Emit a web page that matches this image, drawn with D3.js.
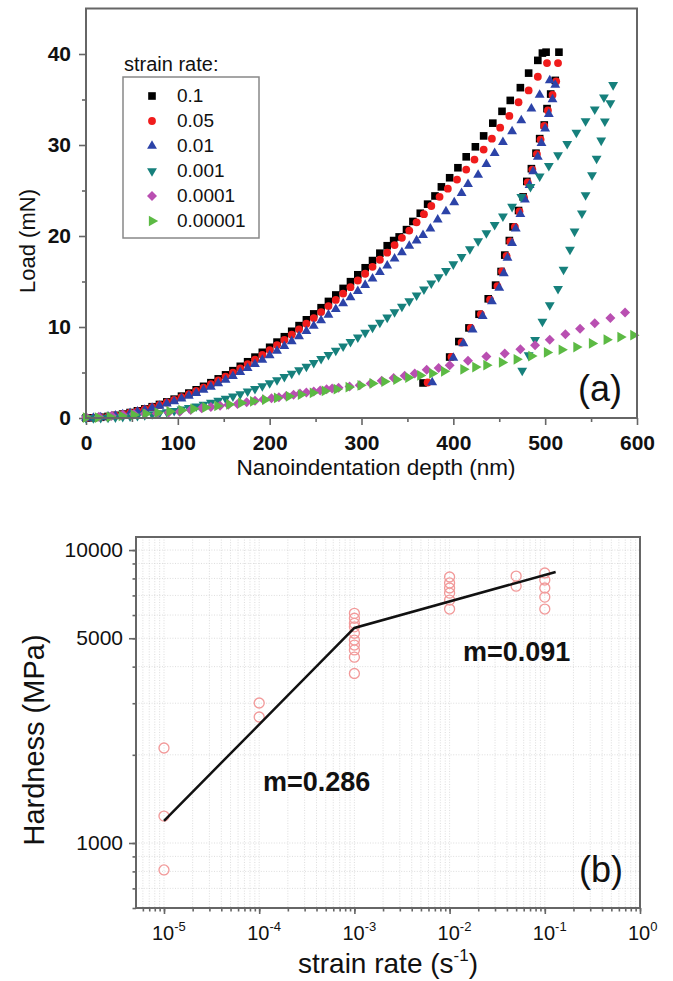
<!DOCTYPE html>
<html>
<head>
<meta charset="utf-8">
<title>Load-depth curves and hardness vs strain rate</title>
<script src="https://cdnjs.cloudflare.com/ajax/libs/d3/7.8.5/d3.min.js"></script>
<style>
  body { margin: 0; background: #fff; }
  text { font-family: "Liberation Sans", Arial, sans-serif; fill: #111; }
  .frame { fill: none; stroke: #666; stroke-width: 2; }
  .axis path { display: none; }
  .axis line { stroke: #666; stroke-width: 1.6; }
  .grid line { stroke: #d4d4d4; stroke-width: 0.8; stroke-dasharray: 1 1.6; }
</style>
</head>
<body>
<svg id="fig" width="673" height="981"></svg>
<script>
// ---------- (a) load vs depth, [depth nm, load mN] ----------
const rate01Load = [[0,0],[8,0.02],[16,0.08],[24,0.17],[32,0.29],[40,0.43],[48,0.6],[56,0.79],[64,1.0],[72,1.24],[80,1.49],[88,1.77],[96,2.07],[104,2.4],[112,2.74],[120,3.1],[128,3.48],[136,3.88],[144,4.3],[152,4.74],[160,5.2],[168,5.68],[176,6.18],[184,6.69],[192,7.22],[200,7.77],[208,8.34],[216,8.93],[224,9.53],[232,10.15],[240,10.79],[248,11.44],[256,12.12],[264,12.81],[272,13.52],[280,14.24],[288,14.98],[296,15.74],[304,16.51],[312,17.3],[320,18.11],[328,18.93],[335,19.5],[341,19.9],[349,20.7],[356,21.6],[364,22.5],[372,23.5],[380,24.4],[387,25.4],[396,26.4],[405,27.5],[414,28.7],[424,29.8],[433,31.0],[443,32.4],[453,33.7],[462,34.9],[473,36.3],[482,37.9],[492,39.3],[497,40.1],[501,40.2]];
const rate01Unload = [[515,40.2],[511,37.1],[506,35.6],[502,34.0],[499,32.2],[494,30.7],[490,29.1],[485,27.4],[480,26.0],[476,24.3],[471,22.8],[465,21.0],[461,19.5],[456,17.9],[452,16.1],[446,14.6],[438,13.1],[428,11.4],[417,9.9],[406,8.4],[396,6.7],[367,3.85]];

const rate005Load = [[0,0],[8,0.02],[16,0.08],[24,0.16],[32,0.28],[40,0.41],[48,0.58],[56,0.76],[64,0.96],[72,1.19],[80,1.43],[88,1.7],[96,1.99],[104,2.3],[112,2.63],[120,2.98],[128,3.34],[136,3.72],[144,4.13],[152,4.55],[160,4.99],[168,5.45],[176,5.93],[184,6.42],[192,6.93],[200,7.46],[208,8.01],[216,8.57],[224,9.15],[232,9.74],[240,10.36],[248,10.98],[256,11.64],[264,12.3],[272,12.98],[280,13.67],[288,14.38],[296,15.11],[304,15.85],[312,16.61],[320,17.39],[328,18.17],[336,19.0],[344,19.8],[352,20.6],[360,21.5],[368,22.4],[376,23.3],[385,24.3],[394,25.2],[404,26.2],[414,27.3],[423,28.4],[433,29.5],[442,30.7],[451,31.9],[461,33.2],[471,34.7],[482,36.0],[492,37.5],[502,39.0]];
const rate005Unload = [[514,39.0],[512,37.0],[508,35.5],[503,33.8],[499,32.1],[495,30.6],[491,29.0],[486,27.3],[481,25.9],[477,24.2],[472,22.7],[467,21.0],[462,19.4],[458,17.8],[453,16.1],[448,14.5],[440,13.0],[430,11.4],[419,9.9],[409,8.3],[398,6.7],[372,3.9]];

const rate001Load = [[0,0],[8,0.02],[16,0.07],[24,0.15],[32,0.26],[40,0.38],[48,0.53],[56,0.7],[64,0.88],[72,1.1],[80,1.32],[88,1.57],[96,1.83],[104,2.12],[112,2.42],[120,2.74],[128,3.08],[136,3.43],[144,3.81],[152,4.19],[160,4.6],[168,5.03],[176,5.47],[184,5.92],[192,6.39],[200,6.88],[208,7.38],[216,7.9],[224,8.43],[232,8.98],[240,9.55],[248,10.12],[256,10.73],[264,11.34],[272,11.97],[280,12.6],[288,13.26],[296,13.93],[304,14.61],[312,15.31],[320,16.03],[328,16.75],[336,17.5],[344,18.2],[352,18.9],[360,19.5],[367,20.1],[375,20.8],[383,21.8],[392,22.7],[401,23.7],[409,24.7],[416,25.7],[427,26.7],[436,27.9],[445,29.1],[454,30.3],[464,31.5],[474,32.7],[485,34.0],[494,35.5],[505,37.1]];
const rate001Unload = [[511,36.6],[508,35.0],[504,33.4],[500,31.8],[496,30.2],[492,28.7],[487,27.1],[483,25.6],[478,24.0],[473,22.4],[468,20.8],[464,19.2],[459,17.6],[455,15.9],[450,14.3],[442,12.8],[432,11.2],[421,9.7],[411,8.2],[400,6.6],[377,3.9]];

const rate0001Load = [[0,0],[8,0.0],[16,0.02],[24,0.04],[32,0.08],[40,0.12],[48,0.18],[56,0.25],[64,0.33],[72,0.43],[80,0.54],[88,0.66],[96,0.8],[104,0.95],[112,1.11],[120,1.29],[128,1.48],[136,1.68],[144,1.9],[152,2.13],[160,2.38],[168,2.64],[176,2.92],[184,3.21],[192,3.51],[200,3.83],[208,4.17],[216,4.52],[224,4.88],[232,5.27],[240,5.66],[248,6.07],[256,6.5],[264,6.94],[272,7.4],[280,7.88],[288,8.37],[296,8.87],[304,9.39],[312,9.93],[320,10.48],[328,11.05],[336,11.63],[344,12.24],[352,12.85],[360,13.49],[368,14.14],[376,14.8],[384,15.49],[392,16.18],[400,16.9],[409,17.72],[418,18.57],[427,19.43],[436,20.32],[445,21.23],[454,22.16],[464,23.22],[474,24.3],[484,25.41],[494,26.55],[504,27.71],[514,28.9],[524,30.12],[534,31.36],[544,32.63],[554,33.93],[564,35.25],[574,36.6]];
const rate0001Unload = [[571,34.6],[565,32.6],[561,30.5],[556,28.5],[551,26.7],[544,24.5],[540,22.5],[532,20.5],[527,18.5],[520,16.3],[514,14.2],[505,12.4],[497,10.6],[489,8.6],[482,6.9],[475,5.2]];

const rate00001Load = [[0,0.1],[14,0.15],[28,0.25],[40,0.35],[52,0.44],[64,0.47],[77,0.5],[90,0.6],[102,0.7],[114,0.88],[126,1.07],[136,1.2],[146,1.35],[155,1.45],[165,1.54],[175,1.72],[184,1.9],[193,2.03],[202,2.16],[210,2.29],[218,2.42],[226,2.56],[233,2.7],[240,2.8],[248,2.9],[255,3.03],[262,3.15],[268,3.24],[275,3.33],[287,3.47],[298,3.6],[310,3.8],[322,4.1],[335,4.4],[347,4.65],[358,4.9],[371,5.3],[384,5.5],[396,5.8],[416,6.3],[436,6.75],[456,7.1],[473,7.55],[489,8.0],[505,8.6],[522,9.2],[538,9.8],[554,10.4],[571,11.0],[587,11.6]];

const rate000001Load = [[0,0.05],[13,0.05],[26,0.13],[39,0.23],[52,0.34],[65,0.46],[78,0.58],[91,0.72],[104,0.86],[117,1.01],[130,1.16],[143,1.32],[156,1.49],[169,1.66],[182,1.83],[195,2.01],[208,2.2],[221,2.38],[234,2.58],[247,2.77],[260,2.97],[273,3.17],[286,3.38],[299,3.59],[312,3.8],[325,4.01],[338,4.23],[351,4.45],[364,4.68],[377,4.9],[390,5.13],[411,5.35],[424,5.6],[436,5.8],[453,6.1],[469,6.45],[485,6.8],[502,7.2],[518,7.5],[534,7.8],[551,8.2],[567,8.6],[582,8.9],[596,9.1]];

const rateLabels = ["0.1", "0.05", "0.01", "0.001", "0.0001", "0.00001"];
const rateColors = ["#000000", "#f01c1c", "#2c43a8", "#16807c", "#b94fb1", "#5cba44"];
const depthTicks = [0, 100, 200, 300, 400, 500, 600];
const loadTicks = [0, 10, 20, 30, 40];

// ---------- (b) hardness vs strain rate ----------
const hardnessRates = [1e-5, 1e-4, 1e-3, 1e-2, 0.05, 0.1];
const hardnessValues = [
  [2110, 1236, 809],
  [3005, 2692],
  [6080, 5850, 5620, 5470, 5200, 4930, 4740, 4560, 4310, 3790],
  [8090, 7720, 7420, 7130, 6750, 6290],
  [8150, 7530],
  [8350, 7900, 7420, 6910, 6290]
];
const fitLine = [[1e-5, 1190], [1e-3, 5420], [0.13, 8420]];
const rateTicks = [1e-5, 1e-4, 1e-3, 1e-2, 1e-1, 1];
const hardnessTicks = [1000, 5000, 10000];

const svg = d3.select("#fig");

// ================= panel (a) =================
const x1 = d3.scaleLinear().domain([0, 600]).range([86, 637]);
const y1 = d3.scaleLinear().domain([0, 45]).range([418, 8.5]);

const gA = svg.append("g");

gA.append("g").attr("class", "axis")
  .attr("transform", "translate(0,418)")
  .call(d3.axisBottom(x1).tickValues(d3.range(50, 600, 100)).tickSize(4).tickFormat(""));
const xa = gA.append("g").attr("class", "axis")
  .attr("transform", "translate(0,418)")
  .call(d3.axisBottom(x1).tickValues(depthTicks).tickSize(7).tickPadding(10));
xa.selectAll("text").attr("font-size", 21).attr("font-weight", "bold").attr("fill", "#111");

gA.append("g").attr("class", "axis")
  .attr("transform", "translate(86,0)")
  .call(d3.axisLeft(y1).tickValues([5, 15, 25, 35]).tickSize(4).tickFormat(""));
const ya = gA.append("g").attr("class", "axis")
  .attr("transform", "translate(86,0)")
  .call(d3.axisLeft(y1).tickValues(loadTicks).tickSize(7).tickPadding(8));
ya.selectAll("text").attr("font-size", 21).attr("font-weight", "bold").attr("fill", "#111");

const series = [
  { pts: rate01Load.concat(rate01Unload), sym: d3.symbolSquare, size: 58, rot: 0 },
  { pts: rate005Load.concat(rate005Unload), sym: d3.symbolCircle, size: 48, rot: 0 },
  { pts: rate001Load.concat(rate001Unload), sym: d3.symbolTriangle, size: 42, rot: 0 },
  { pts: rate0001Load.concat(rate0001Unload), sym: d3.symbolTriangle, size: 42, rot: 180 },
  { pts: rate00001Load, sym: d3.symbolSquare, size: 50, rot: 45 },
  { pts: rate000001Load, sym: d3.symbolTriangle, size: 50, rot: 90 }
];

series.forEach((s, i) => {
  gA.append("g").selectAll("path")
    .data(s.pts)
    .join("path")
    .attr("d", d3.symbol(s.sym, s.size))
    .attr("fill", rateColors[i])
    .attr("transform", d => `translate(${x1(d[0])},${y1(d[1])}) rotate(${s.rot})`);
});

gA.append("rect").attr("class", "frame")
  .attr("x", 86).attr("y", 8.5).attr("width", 551).attr("height", 409.5);

// legend
const leg = gA.append("g");
leg.append("text").attr("x", 124).attr("y", 71).attr("font-size", 20).text("strain rate:");
leg.append("rect").attr("x", 123).attr("y", 77).attr("width", 136).attr("height", 161)
  .attr("fill", "#fff").attr("stroke", "#888").attr("stroke-width", 1.5);
rateLabels.forEach((lab, i) => {
  const yy = 102 + i * 25;
  leg.append("path")
    .attr("d", d3.symbol(series[i].sym, series[i].size))
    .attr("fill", rateColors[i])
    .attr("transform", `translate(152,${yy - 6}) rotate(${series[i].rot})`);
  leg.append("text").attr("x", 177).attr("y", yy).attr("font-size", 19).text(lab);
});

gA.append("text").attr("x", 600).attr("y", 401).attr("text-anchor", "middle")
  .attr("font-size", 36).attr("fill", "#222").text("(a)");

gA.append("text").attr("x", 376).attr("y", 475).attr("text-anchor", "middle")
  .attr("font-size", 22.5).text("Nanoindentation depth (nm)");
gA.append("text").attr("transform", "translate(35,241) rotate(-90)")
  .attr("text-anchor", "middle").attr("font-size", 22).text("Load (mN)");

// ================= panel (b) =================
const x2 = d3.scaleLog().domain([Math.pow(10, -5.294), 1]).range([136, 640]);
const y2 = d3.scaleLog().domain([600, 11080]).range([908, 537]);

const gB = svg.append("g");

// dotted grid
const grid = gB.append("g").attr("class", "grid");
grid.selectAll("line.gx").data(x2.ticks()).join("line")
  .attr("x1", d => x2(d)).attr("x2", d => x2(d)).attr("y1", 537).attr("y2", 908);
grid.selectAll("line.gy").data(y2.ticks()).join("line")
  .attr("x1", 136).attr("x2", 640).attr("y1", d => y2(d)).attr("y2", d => y2(d));

gB.append("g").attr("class", "axis")
  .attr("transform", "translate(0,908)")
  .call(d3.axisBottom(x2).tickValues(x2.ticks()).tickSize(3.5).tickFormat(""));
gB.append("g").attr("class", "axis")
  .attr("transform", "translate(0,908)")
  .call(d3.axisBottom(x2).tickValues(rateTicks).tickSize(6).tickFormat(""));

gB.append("g").attr("class", "axis")
  .attr("transform", "translate(136,0)")
  .call(d3.axisLeft(y2).tickValues(y2.ticks()).tickSize(3.5).tickFormat(""));
const yb = gB.append("g").attr("class", "axis")
  .attr("transform", "translate(136,0)")
  .call(d3.axisLeft(y2).tickValues(hardnessTicks).tickSize(7).tickPadding(6).tickFormat(d3.format("d")));
yb.selectAll("text").attr("font-size", 21).attr("fill", "#111");

// x tick labels 10^n
rateTicks.forEach(v => {
  const t = gB.append("text").attr("x", x2(v) - 12).attr("y", 940).attr("font-size", 20);
  t.append("tspan").text("10");
  t.append("tspan").attr("font-size", 13).attr("dy", -9).text(Math.round(Math.log10(v)));
});

// data circles
hardnessRates.forEach((r, i) => {
  gB.append("g").selectAll("circle")
    .data(hardnessValues[i])
    .join("circle")
    .attr("cx", x2(r))
    .attr("cy", d => y2(d))
    .attr("r", 5)
    .attr("fill", "none")
    .attr("stroke", "#f29a9a")
    .attr("stroke-width", 1.3);
});

gB.append("path")
  .datum(fitLine)
  .attr("d", d3.line().x(d => x2(d[0])).y(d => y2(d[1])))
  .attr("fill", "none").attr("stroke", "#111").attr("stroke-width", 2.5);

gB.append("rect").attr("class", "frame")
  .attr("x", 136).attr("y", 537).attr("width", 504).attr("height", 371);

gB.append("text").attr("x", 263).attr("y", 791).attr("font-size", 27).attr("font-weight", "bold")
  .attr("fill", "#1a1a1a").text("m=0.286");
gB.append("text").attr("x", 463).attr("y", 661).attr("font-size", 27).attr("font-weight", "bold")
  .attr("fill", "#1a1a1a").text("m=0.091");
gB.append("text").attr("x", 601).attr("y", 882).attr("text-anchor", "middle")
  .attr("font-size", 36).attr("fill", "#222").text("(b)");

const xl = gB.append("text").attr("x", 388).attr("y", 973).attr("text-anchor", "middle").attr("font-size", 28);
xl.append("tspan").text("strain rate (s");
xl.append("tspan").attr("font-size", 17).attr("dy", -12).text("-1");
xl.append("tspan").attr("dy", 12).text(")");

gB.append("text").attr("transform", "translate(44,740) rotate(-90)")
  .attr("text-anchor", "middle").attr("font-size", 29).text("Hardness (MPa)");
</script>
</body>
</html>
